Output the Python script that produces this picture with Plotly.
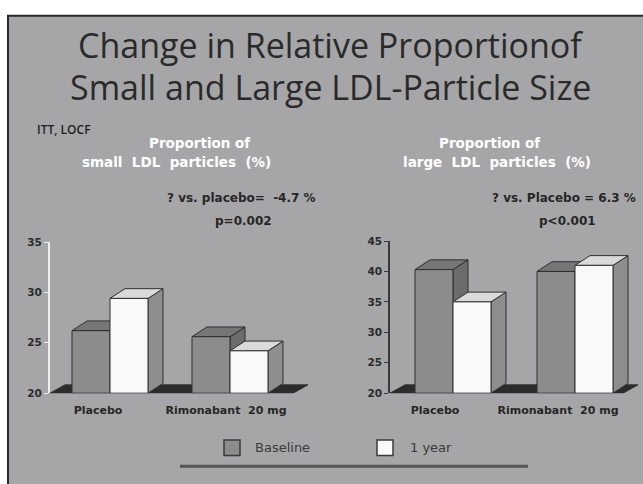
import plotly.graph_objects as go

W, H = 643, 484

# ---- data ----
groups = ["Placebo", "Rimonabant  20 mg"]
series = ["Baseline", "1 year"]
small_baseline = [26.2, 25.6]
small_1year = [29.4, 24.2]
large_baseline = [40.3, 40.0]
large_1year = [35.0, 41.0]
small_ticks = [20, 25, 30, 35]
large_ticks = [20, 25, 30, 35, 40, 45]

# ---- styling ----
BG = "#a6a6a8"
EDGE = "#2f2f2f"
FACE = {
    "Baseline": {"front": "#8c8c8c", "top": "#767676", "side": "#6c6c6c"},
    "1 year": {"front": "#f9f9f9", "top": "#dadada", "side": "#8e8e8e"},
}
FLOOR = "#2c2c2c"
BOLD = dict(family="DejaVu Sans", weight="bold")


def px(x):
    return x / W


def py(y):
    return 1 - y / H


panels = [
    dict(name="small", base=small_baseline, year=small_1year, ticks=small_ticks,
         xdom=(50, 310), xrng=(0, 2.6), centers=[0.6, 1.8], label_shift=[-0.12, -0.04],
         floor_end=2.43, ydom=(397, 242), yrng=(20, 35),
         axis_color="#eeeeee", axis_w=2),
    dict(name="large", base=large_baseline, year=large_1year, ticks=large_ticks,
         xdom=(390, 643), xrng=(0, 2.53), centers=[0.63, 1.85], label_shift=[-0.18, -0.17],
         floor_end=2.33, ydom=(397, 241), yrng=(20, 45),
         axis_color="#3a3a3a", axis_w=1.5),
]

BAR_W = 0.38      # width of one bar in x units
DEPTH_X_PX = 15   # depth offset of the 3-D faces
DEPTH_Y_PX = 10

fig = go.Figure()


def poly(xs, ys, color, xa, ya):
    fig.add_trace(go.Scatter(
        x=xs + [xs[0]], y=ys + [ys[0]], mode="lines", fill="toself",
        fillcolor=color, line=dict(color=EDGE, width=1),
        hoverinfo="skip", showlegend=False, xaxis=xa, yaxis=ya))


def box(x0, x1, y0, y1, dx, dy, faces, xa, ya):
    # side, top, then front face
    poly([x1, x1 + dx, x1 + dx, x1], [y0, y0 + dy, y1 + dy, y1], faces["side"], xa, ya)
    poly([x0, x1, x1 + dx, x0 + dx], [y1, y1, y1 + dy, y1 + dy], faces["top"], xa, ya)
    poly([x0, x1, x1, x0], [y0, y0, y1, y1], faces["front"], xa, ya)


for i, p in enumerate(panels):
    n = "" if i == 0 else str(i + 1)
    xa, ya = "x" + n, "y" + n
    xpx = p["xdom"][1] - p["xdom"][0]
    ypx = p["ydom"][0] - p["ydom"][1]
    dx = DEPTH_X_PX * (p["xrng"][1] - p["xrng"][0]) / xpx
    dy = DEPTH_Y_PX * (p["yrng"][1] - p["yrng"][0]) / ypx
    y0 = p["yrng"][0]

    # floor slab
    poly([0, p["floor_end"], p["floor_end"] + dx, dx],
         [y0, y0, y0 + dy * 0.85, y0 + dy * 0.85], FLOOR, xa, ya)

    for c, vb, vy in zip(p["centers"], p["base"], p["year"]):
        box(c - BAR_W, c, y0, vb, dx, dy, FACE["Baseline"], xa, ya)
        box(c, c + BAR_W, y0, vy, dx, dy, FACE["1 year"], xa, ya)

    fig.update_layout(**{
        ("xaxis" + n): dict(
            domain=[px(p["xdom"][0]), px(p["xdom"][1])], range=list(p["xrng"]),
            showgrid=False, zeroline=False, showline=False, anchor=ya,
            tickvals=[c + s for c, s in zip(p["centers"], p["label_shift"])],
            ticktext=groups, ticks="", ticklabelstandoff=9,
            tickfont=dict(size=11, color="#262626", **BOLD)),
        ("yaxis" + n): dict(
            domain=[py(p["ydom"][0]), py(p["ydom"][1])], range=list(p["yrng"]),
            showgrid=False, zeroline=False, showline=True, anchor=xa,
            linecolor=p["axis_color"], linewidth=p["axis_w"],
            tickvals=p["ticks"], ticks="outside", ticklen=4,
            tickcolor=p["axis_color"], tickwidth=1,
            tickfont=dict(size=10.5, color="#2a2a2a", **BOLD)),
    })

# ---- page frame ----
shapes = [
    dict(type="rect", xref="paper", yref="paper", x0=px(8), x1=px(660),
         y0=py(500), y1=py(10), fillcolor=BG, line=dict(color="#2a2a2a", width=2),
         layer="below"),
    dict(type="line", xref="paper", yref="paper", x0=px(180), x1=px(528),
         y0=py(472), y1=py(472), line=dict(color="#555555", width=3)),
    # legend swatches
    dict(type="rect", xref="paper", yref="paper", x0=px(224), x1=px(240),
         y0=py(461), y1=py(445), fillcolor=FACE["Baseline"]["front"],
         line=dict(color="#3a3a3a", width=1.5)),
    dict(type="rect", xref="paper", yref="paper", x0=px(377), x1=px(393),
         y0=py(461), y1=py(445), fillcolor=FACE["1 year"]["front"],
         line=dict(color="#3a3a3a", width=1.5)),
]

TITLE_FONT = dict(family="Open Sans", size=34, color="#2a2a2a")
STAT_FONT = dict(size=12, color="#262626", **BOLD)
SUB_FONT = dict(size=13.5, color="#ffffff", **BOLD)
annotations = [
    dict(text="Change in Relative Proportionof", x=px(330), y=py(40), font=TITLE_FONT),
    dict(text="Small and Large LDL-Particle Size", x=px(330), y=py(83), font=TITLE_FONT),
    dict(text="ITT, LOCF", x=px(35), y=py(127), xanchor="left",
         font=dict(family="Open Sans", weight=600, size=12, color="#1e1e1e")),
    dict(text="Proportion of", x=px(199), y=py(140), font=SUB_FONT),
    dict(text="small  LDL  particles  (%)", x=px(176), y=py(160), font=SUB_FONT),
    dict(text="Proportion of", x=px(490), y=py(140), font=SUB_FONT),
    dict(text="large  LDL  particles  (%)", x=px(497), y=py(160), font=SUB_FONT),
    dict(text="? vs. placebo=  -4.7 %", x=px(165), y=py(197), xanchor="left", font=STAT_FONT),
    dict(text="p=0.002", x=px(243), y=py(220), font=STAT_FONT),
    dict(text="? vs. Placebo = 6.3 %", x=px(490), y=py(197), xanchor="left", font=STAT_FONT),
    dict(text="p<0.001", x=px(567), y=py(220), font=STAT_FONT),
    dict(text=series[0], x=px(253), y=py(453), xanchor="left",
         font=dict(family="DejaVu Sans", size=13, color="#3a3a3a")),
    dict(text=series[1], x=px(408), y=py(453), xanchor="left",
         font=dict(family="DejaVu Sans", size=13, color="#3a3a3a")),
]
for a in annotations:
    a.update(xref="paper", yref="paper", showarrow=False)
    a.setdefault("xanchor", "center")
    a.setdefault("yanchor", "middle")

fig.update_layout(
    width=W, height=H, margin=dict(l=0, r=0, t=0, b=0),
    paper_bgcolor="#ffffff", plot_bgcolor="rgba(0,0,0,0)",
    shapes=shapes, annotations=annotations, showlegend=False,
)

fig.write_html("out.html")
